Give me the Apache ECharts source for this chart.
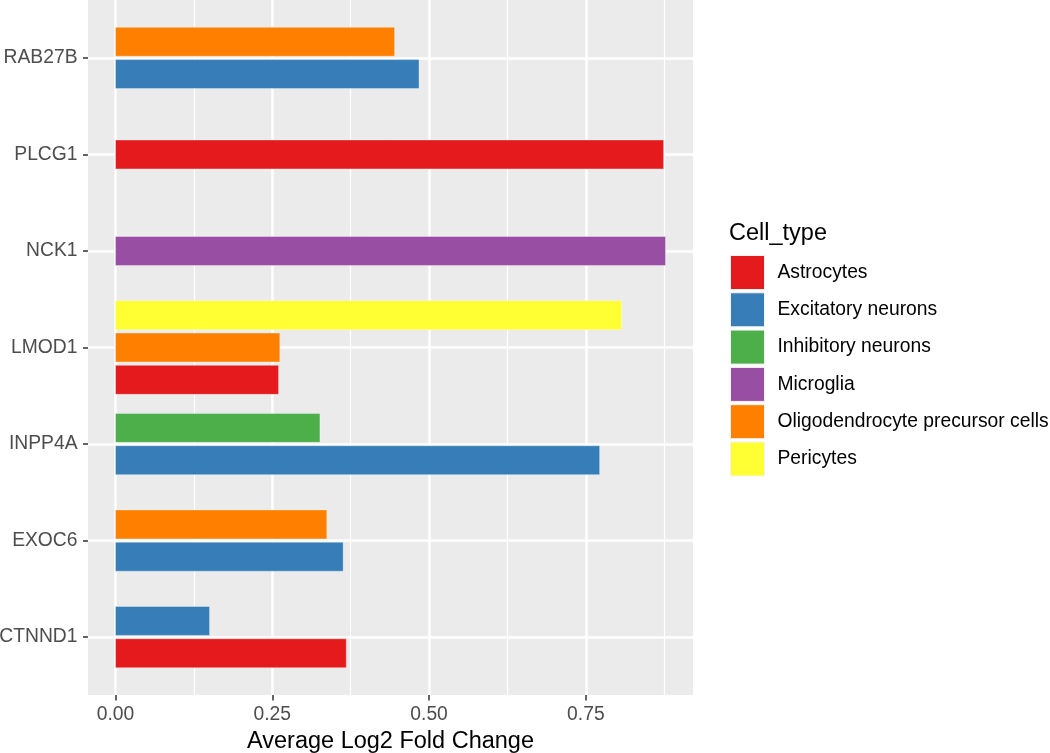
<!DOCTYPE html>
<html>
<head>
<meta charset="utf-8">
<script src="https://cdn.jsdelivr.net/npm/echarts@6/dist/echarts.min.js"></script>
<style>
html,body{margin:0;padding:0;background:#fff;}
#chart{width:1050px;height:753px;}
</style>
</head>
<body>
<div id="chart"></div>
<script>
// ---- data ----
const genes = ['CTNND1', 'EXOC6', 'INPP4A', 'LMOD1', 'NCK1', 'PLCG1', 'RAB27B'];
const cellTypes = ['Astrocytes', 'Excitatory neurons', 'Inhibitory neurons', 'Microglia', 'Oligodendrocyte precursor cells', 'Pericytes'];
const astrocytes = [0.368, null, null, 0.260, null, 0.874, null];
const excitatoryNeurons = [0.150, 0.363, 0.772, null, null, null, 0.484];
const inhibitoryNeurons = [null, null, 0.326, null, null, null, null];
const microglia = [null, null, null, null, 0.877, null, null];
const opc = [null, 0.337, null, 0.262, null, null, 0.445];
const pericytes = [null, null, null, 0.807, null, null, null];
const xTicks = [0, 0.25, 0.5, 0.75];
const xMinorTicks = [0.125, 0.375, 0.625, 0.875];
const colors = ['#E41A1C', '#377EB8', '#4DAF4A', '#984EA3', '#FF7F00', '#FFFF33'];

const seriesValues = [astrocytes, excitatoryNeurons, inhibitoryNeurons, microglia, opc, pericytes];

// ggplot-like continuous expansion (5%)
let maxV = 0;
seriesValues.forEach(a => a.forEach(v => { if (v != null && v > maxV) maxV = v; }));
const xMin = -0.05 * maxV, xMax = maxV * 1.05;

// dodge slot per gene (preserve = single)
const slotInfo = genes.map((g, gi) => {
  const present = [];
  seriesValues.forEach((arr, si) => { if (arr[gi] != null) present.push(si); });
  return present;
});

const FONT = 'Liberation Sans, Arial, sans-serif';
const TXT = 19.3;

const series = cellTypes.map((name, si) => {
  const data = [];
  seriesValues[si].forEach((v, gi) => {
    if (v == null) return;
    const present = slotInfo[gi];
    const i = present.indexOf(si);
    const off = i - (present.length - 1) / 2;
    data.push([gi, v, off]);
  });
  return {
    name: name,
    type: 'custom',
    xAxisIndex: 2,
    yAxisIndex: 1,
    itemStyle: { color: colors[si] },
    encode: { x: 1, y: 0 },
    data: data,
    renderItem: function (params, api) {
      const gi = api.value(0), v = api.value(1), off = api.value(2);
      const p0 = api.coord([0, gi]);
      const p1 = api.coord([v, gi]);
      const band = api.size([0, 1])[1];
      const h = 0.3 * band;
      const cy = p0[1] - off * 0.335 * band;
      return {
        type: 'rect',
        shape: { x: p0[0], y: cy - h / 2, width: p1[0] - p0[0], height: h },
        style: { fill: api.visual('color'), stroke: 'rgba(255,255,255,0.45)', lineWidth: 0.8 }
      };
    }
  };
});

const chart = echarts.init(document.getElementById('chart'), null, { renderer: 'canvas' });
chart.setOption({
  backgroundColor: '#ffffff',
  animation: false,
  textStyle: { fontFamily: FONT },
  grid: [
    { left: 88, top: 0, width: 605, height: 695, show: true, backgroundColor: '#EBEBEB', borderWidth: 0, containLabel: false, outerBoundsMode: 'none' },
    { left: 88, top: 57.9, width: 605, height: 579.2, show: false, containLabel: false, outerBoundsMode: 'none' }
  ],
  xAxis: [
    {
      type: 'value', gridIndex: 0, min: xMin, max: xMax, position: 'bottom',
      axisLine: { show: false, onZero: false },
      axisTick: { show: true, length: 5.5, lineStyle: { color: '#333333', width: 1.5 }, customValues: xTicks },
      axisLabel: { show: true, customValues: xTicks, color: '#4D4D4D', fontSize: TXT, fontFamily: FONT, margin: 10.5,
        formatter: v => Number(v).toFixed(2) },
      splitLine: { show: true, lineStyle: { color: '#FFFFFF', width: 2.5 } },
      name: 'Average Log2 Fold Change', nameLocation: 'middle', nameGap: 35,
      nameTextStyle: { color: '#000000', fontSize: 23.5, fontFamily: FONT }
    },
    {
      type: 'value', gridIndex: 0, min: xMin, max: xMax, position: 'top',
      axisLine: { show: false, onZero: false },
      axisTick: { show: false, customValues: xMinorTicks },
      axisLabel: { show: false, customValues: xMinorTicks },
      splitLine: { show: true, lineStyle: { color: '#FFFFFF', width: 1.2 } }
    },
    {
      type: 'value', gridIndex: 1, min: xMin, max: xMax, show: false,
      axisLine: { onZero: false },
      splitLine: { show: false }
    }
  ],
  yAxis: [
    { type: 'value', gridIndex: 0, show: false, axisLine: { onZero: false }, splitLine: { show: false } },
    {
      type: 'category', gridIndex: 1, data: genes, boundaryGap: false, position: 'left',
      axisLine: { show: false, onZero: false },
      axisTick: { show: true, length: 5, lineStyle: { color: '#333333', width: 1.5 }, alignWithLabel: true },
      axisLabel: { color: '#4D4D4D', fontSize: TXT, fontFamily: FONT, margin: 10.5 },
      splitLine: { show: true, lineStyle: { color: '#FFFFFF', width: 2.5 } }
    }
  ],
  legend: {
    orient: 'vertical', left: 730, top: 255, padding: 0,
    icon: 'rect', itemWidth: 34, itemHeight: 34, itemGap: 2.3,
    selectedMode: false,
    itemStyle: { borderColor: '#F2F2F2', borderWidth: 1 },
    textStyle: { color: '#000000', fontSize: TXT, fontFamily: FONT, padding: [0, 0, 0, 8] },
    data: cellTypes
  },
  graphic: [
    { type: 'text', left: 729, top: 222, style: { text: 'Cell_type', fontSize: 23.5, fontFamily: FONT, fill: '#000000' } }
  ],
  series: series
});
</script>
</body>
</html>
